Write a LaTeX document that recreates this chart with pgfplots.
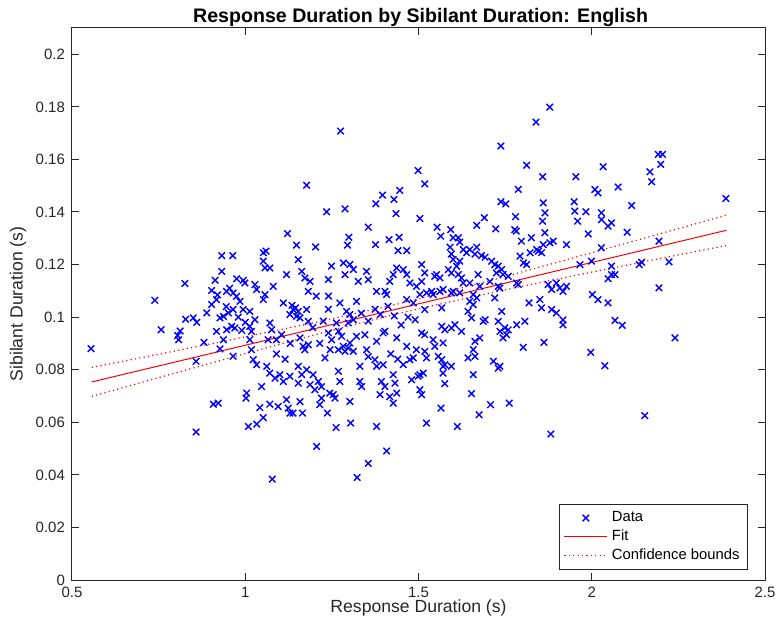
\documentclass[border=0pt]{standalone}
\usepackage{pgfplots}
\pgfplotsset{compat=1.18}
\usepackage{pgfplotstable}
\usepackage{fontspec}
\setmainfont{Liberation Sans}

\definecolor{axgray}{rgb}{0.15,0.15,0.15}
\definecolor{mblue}{rgb}{0,0,1}
\definecolor{fitred}{rgb}{1,0,0}

% Response duration (s) vs. sibilant duration (s)
\pgfplotstableread{
x y
0.555 0.0880
0.739 0.1064
0.757 0.0952
0.826 0.1128
0.858 0.0832
0.808 0.0914
0.805 0.0930
0.812 0.0947
0.828 0.0992
0.850 0.0997
0.860 0.0980
0.881 0.0904
0.858 0.0563
0.908 0.0669
0.922 0.0673
0.932 0.1234
0.964 0.1234
0.932 0.1174
0.913 0.1140
0.975 0.1146
0.994 0.1140
0.999 0.1130
0.903 0.1101
0.946 0.1098
0.965 0.1092
0.975 0.1079
0.917 0.1067
0.889 0.1016
0.903 0.1048
0.927 0.0997
0.937 0.1003
0.951 0.1016
0.965 0.1029
0.994 0.1029
1.013 0.1022
0.917 0.0946
0.946 0.0952
0.961 0.0965
0.970 0.0959
0.990 0.0950
0.937 0.0914
0.927 0.0879
0.965 0.0851
1.013 0.0914
1.018 0.0876
1.004 0.0711
1.002 0.0692
1.009 0.0584
0.955 0.1110
0.985 0.1060
0.920 0.1085
0.980 0.1000
0.945 0.1040
1.000 0.0980
1.275 0.1708
1.177 0.1502
1.235 0.1401
1.288 0.1412
1.122 0.1318
1.148 0.1274
1.203 0.1267
1.060 0.1251
1.299 0.1304
1.295 0.1274
1.355 0.1342
1.377 0.1431
1.396 0.1464
1.429 0.1448
1.446 0.1482
1.435 0.1394
1.376 0.1276
1.415 0.1295
1.444 0.1304
1.441 0.1253
1.466 0.1253
1.499 0.1558
1.518 0.1507
1.504 0.1375
1.879 0.1799
1.839 0.1742
1.738 0.1651
1.812 0.1578
1.858 0.1534
1.954 0.1534
1.788 0.1486
1.738 0.1439
1.752 0.1431
1.860 0.1435
1.949 0.1439
1.951 0.1403
1.865 0.1397
1.858 0.1365
1.983 0.1401
1.959 0.1365
1.780 0.1382
1.690 0.1378
1.668 0.1349
1.723 0.1336
1.778 0.1333
1.782 0.1327
1.865 0.1321
1.990 0.1317
1.554 0.1342
1.564 0.1308
1.593 0.1333
1.600 0.1302
1.615 0.1302
1.591 0.1266
1.619 0.1285
1.629 0.1257
1.648 0.1257
1.668 0.1266
1.797 0.1289
1.826 0.1302
1.841 0.1257
1.860 0.1276
1.879 0.1283
1.889 0.1289
1.927 0.1276
2.192 0.1619
2.204 0.1619
2.199 0.1581
2.168 0.1553
2.173 0.1515
2.033 0.1572
2.009 0.1486
2.018 0.1473
2.076 0.1495
2.115 0.1425
2.387 0.1451
2.028 0.1397
2.028 0.1371
2.047 0.1346
2.057 0.1359
2.102 0.1323
2.194 0.1289
2.028 0.1264
1.999 0.1213
2.057 0.1194
2.047 0.1146
2.057 0.1162
2.067 0.1162
2.137 0.1200
2.144 0.1209
2.223 0.1210
2.194 0.1111
2.002 0.1086
2.018 0.1067
2.047 0.1054
2.067 0.0988
2.088 0.0969
2.240 0.0921
1.997 0.0866
2.038 0.0815
2.153 0.0625
1.565 0.0654
1.523 0.0597
1.612 0.0584
1.675 0.0629
1.708 0.0667
1.762 0.0673
1.882 0.0555
1.078 0.0384
1.323 0.0390
1.355 0.0444
1.408 0.0491
1.206 0.0508
1.262 0.0580
1.304 0.0597
1.379 0.0584
1.427 0.0673
1.042 0.0656
1.033 0.0593
1.052 0.0618
1.071 0.0669
1.095 0.0660
1.119 0.0686
1.129 0.0635
1.124 0.0654
1.138 0.0635
1.158 0.0679
1.165 0.0635
1.215 0.0667
1.237 0.0635
1.220 0.0692
1.259 0.0692
1.302 0.0679
1.595 0.1240
1.639 0.1245
1.663 0.1240
1.682 0.1234
1.692 0.1228
1.793 0.1232
1.803 0.1206
1.812 0.1200
1.822 0.1245
1.846 0.1251
1.855 0.1245
1.711 0.1213
1.720 0.1200
1.730 0.1194
1.740 0.1181
1.725 0.1168
1.744 0.1162
1.759 0.1155
1.600 0.1219
1.619 0.1213
1.610 0.1194
1.586 0.1181
1.595 0.1168
1.615 0.1162
1.624 0.1149
1.552 0.1162
1.562 0.1149
1.547 0.1155
1.509 0.1200
1.509 0.1136
1.672 0.1162
1.648 0.1130
1.706 0.1136
1.677 0.1117
1.629 0.1130
1.619 0.1092
1.730 0.1117
1.735 0.1111
1.783 0.1130
1.788 0.1124
1.966 0.1200
1.874 0.1124
1.884 0.1105
1.898 0.1130
1.908 0.1111
1.917 0.1098
1.927 0.1117
1.504 0.1086
1.523 0.1092
1.538 0.1098
1.542 0.1086
1.562 0.1098
1.571 0.1105
1.595 0.1092
1.600 0.1098
1.658 0.1086
1.668 0.1073
1.648 0.1060
1.658 0.1048
1.720 0.1073
1.819 0.1054
1.850 0.1067
1.855 0.1035
1.884 0.1029
1.898 0.1016
1.917 0.0990
1.917 0.0971
1.518 0.1029
1.567 0.1035
1.643 0.1022
1.653 0.0997
1.692 0.0990
1.687 0.0984
1.740 0.1022
1.730 0.0984
1.735 0.0946
1.749 0.0959
1.759 0.0952
1.744 0.0921
1.754 0.0933
1.783 0.0971
1.807 0.0984
1.567 0.0965
1.576 0.0952
1.595 0.0959
1.605 0.0971
1.624 0.0946
1.518 0.0933
1.542 0.0914
1.547 0.0889
1.571 0.0902
1.677 0.0921
1.663 0.0908
1.658 0.0876
1.802 0.0885
1.862 0.0904
1.518 0.0870
1.523 0.0845
1.557 0.0851
1.567 0.0838
1.576 0.0819
1.643 0.0845
1.663 0.0851
1.716 0.0832
1.735 0.0813
1.730 0.0806
1.571 0.0813
1.571 0.0787
1.595 0.0813
1.514 0.0787
1.504 0.0781
1.658 0.0781
1.576 0.0747
1.653 0.0709
1.052 0.1245
1.052 0.1213
1.071 0.1187
1.057 0.1187
1.153 0.1219
1.119 0.1162
1.163 0.1174
1.172 0.1149
1.187 0.1136
1.182 0.1098
1.249 0.1194
1.240 0.1143
1.283 0.1206
1.288 0.1162
1.302 0.1200
1.312 0.1181
1.326 0.1136
1.350 0.1174
1.355 0.1143
1.417 0.1136
1.427 0.1162
1.437 0.1187
1.456 0.1181
1.466 0.1162
1.475 0.1130
1.494 0.1117
1.518 0.1168
1.379 0.1098
1.403 0.1098
1.408 0.1086
1.028 0.1124
1.033 0.1105
1.057 0.1086
1.052 0.1067
1.081 0.1117
1.110 0.1054
1.138 0.1029
1.148 0.1003
1.158 0.0997
1.153 0.1022
1.129 0.1010
1.177 0.1029
1.182 0.0984
1.240 0.1080
1.240 0.1030
1.273 0.1054
1.292 0.1022
1.302 0.1010
1.321 0.1060
1.263 0.0978
1.297 0.0978
1.312 0.0990
1.412 0.1041
1.466 0.1067
1.485 0.1054
1.013 0.0965
1.028 0.0990
1.018 0.0946
1.071 0.0978
1.076 0.0952
1.105 0.0933
1.090 0.0914
1.066 0.0914
1.158 0.0921
1.167 0.0889
1.172 0.0876
1.182 0.0895
1.240 0.0940
1.249 0.0914
1.269 0.0946
1.278 0.0927
1.283 0.0889
1.297 0.0882
1.302 0.0902
1.288 0.0870
1.269 0.0876
1.245 0.0876
1.312 0.0870
1.321 0.0927
1.345 0.0933
1.350 0.0876
1.379 0.0908
1.398 0.0940
1.403 0.0946
1.437 0.0921
1.466 0.0889
1.485 0.0845
1.494 0.0876
1.509 0.0940
1.023 0.0838
1.033 0.0819
1.062 0.0813
1.071 0.0787
1.086 0.0768
1.100 0.0781
1.110 0.0755
1.047 0.0736
1.129 0.0775
1.153 0.0813
1.163 0.0781
1.177 0.0800
1.196 0.0781
1.211 0.0755
1.220 0.0736
1.187 0.0743
1.201 0.0724
1.153 0.0749
1.244 0.0711
1.254 0.0705
1.269 0.0794
1.273 0.0755
1.331 0.0813
1.331 0.0755
1.336 0.0736
1.374 0.0838
1.379 0.0813
1.398 0.0819
1.393 0.0755
1.403 0.0736
1.427 0.0781
1.432 0.0749
1.456 0.0819
1.475 0.0838
1.480 0.0762
1.499 0.0775
1.504 0.0724
1.437 0.0711
1.417 0.0698
1.135 0.1045
1.145 0.1035
1.225 0.0985
1.335 0.1015
1.355 0.0985
1.375 0.1030
1.390 0.1010
1.430 0.1005
1.450 0.0970
1.470 0.1000
1.490 0.0990
1.205 0.1080
1.195 0.0960
1.215 0.0900
1.230 0.0845
1.355 0.0850
1.420 0.0860
1.440 0.0840
1.090 0.0860
1.115 0.0840
1.130 0.0900
1.509 0.0705
1.389 0.0705
}\sibdata

% Least-squares fit and its confidence bounds
\pgfplotstableread{
x y
0.557 0.07535
2.389 0.13305
}\fitline

\pgfplotstableread{
x up lo
0.557 0.08085 0.06985
0.800 0.08719 0.07881
1.000 0.09248 0.08612
1.200 0.09792 0.09328
1.450 0.10528 0.10168
1.700 0.11367 0.10903
1.900 0.12083 0.11447
2.100 0.12814 0.11976
2.389 0.13881 0.12729
}\confbounds

\begin{document}
\begin{tikzpicture}
\useasboundingbox (-36pt,-25.5pt) rectangle (354.5pt,290pt);
\begin{axis}[
  scale only axis,
  width=346.5pt, height=276pt,
  xmin=0.5, xmax=2.5, ymin=0, ymax=0.21,
  xtick={0.5,1,1.5,2,2.5},
  xticklabels={0.5,1,1.5,2,2.5},
  ytick={0,0.02,0.04,0.06,0.08,0.1,0.12,0.14,0.16,0.18,0.2},
  yticklabels={0,0.02,0.04,0.06,0.08,0.1,0.12,0.14,0.16,0.18,0.2},
  tick align=inside,
  major tick length=3.5pt,
  axis line style={axgray, line width=0.5pt},
  every tick/.style={axgray, line width=0.5pt},
  tick label style={font=\fontsize{7.5}{9}\selectfont, text=axgray},
  xlabel={Response Duration (s)},
  ylabel={Sibilant Duration (s)},
  label style={font=\fontsize{8.8}{10}\selectfont, text=axgray},
  xlabel style={at={(axis description cs:0.5,-0.051)}, anchor=center},
  ylabel style={at={(axis description cs:-0.0779,0.5)}, anchor=center},
  title={Response Duration by Sibilant Duration: English},
  every axis title shift=0pt,
  title style={font=\bfseries\fontsize{9.8}{11}\selectfont, text=black,
    at={(axis description cs:0.503,1.0196)}, anchor=center},
  legend image code/.code={\draw[mark repeat=2,mark phase=2,#1]
    plot coordinates {(0pt,0pt) (10.75pt,0pt) (21.5pt,0pt)};},
  legend style={at={(1,0)}, anchor=south east, xshift=-8.5pt, yshift=5pt,
    draw=axgray, line width=0.5pt, fill=white,
    font=\fontsize{7.4}{8}\selectfont, text=black,
    inner xsep=2pt, inner ysep=1.5pt, row sep=-1.4pt,
    /tikz/every even column/.append style={column sep=2pt}},
  legend cell align=left,
]
\addplot[only marks, mark=x, mark size=2.3pt, mblue, line width=0.7pt]
  table[x=x, y=y] {\sibdata};
\addlegendentry{Data}

\addplot[fitred, line width=0.5pt] table[x=x, y=y] {\fitline};
\addlegendentry{Fit}

\addplot[fitred, line width=0.6pt, dash pattern=on 0.6pt off 1.6pt]
  table[x=x, y=up] {\confbounds};
\addlegendentry{Confidence bounds}

\addplot[fitred, line width=0.6pt, dash pattern=on 0.6pt off 1.6pt, forget plot]
  table[x=x, y=lo] {\confbounds};
\end{axis}
\end{tikzpicture}
\end{document}
